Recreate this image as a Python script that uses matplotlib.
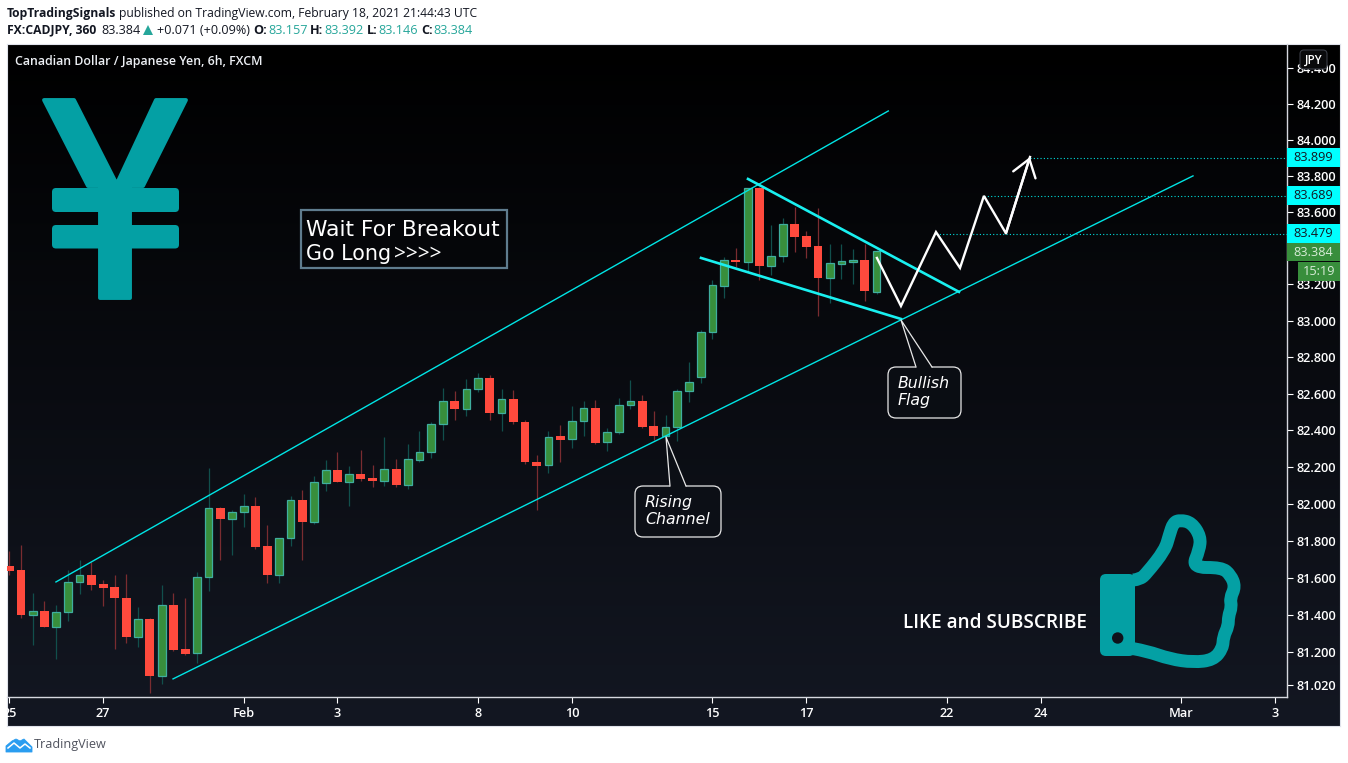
import numpy as np
import matplotlib
matplotlib.use('Agg')
import matplotlib.pyplot as plt
from matplotlib.patches import Polygon, FancyBboxPatch, Circle, Rectangle, PathPatch
from matplotlib.path import Path
from matplotlib.ticker import NullLocator

W, H = 1348, 763

# ── Data ──────────────────────────────────────────────────────────────────────
opens = [81.665, 81.644, 81.401, 81.419, 81.336, 81.414, 81.576, 81.614, 81.567, 81.549,
         81.491, 81.280, 81.376, 81.071, 81.452, 81.215, 81.193, 81.603, 81.977, 81.917,
         81.955, 81.988, 81.770, 81.613, 81.814, 82.023, 81.902, 82.115, 82.183, 82.121,
         82.161, 82.139, 82.126, 82.188, 82.104, 82.241, 82.281, 82.433, 82.559, 82.514,
         82.625, 82.685, 82.492, 82.570, 82.444, 82.227, 82.210, 82.368, 82.351, 82.450,
         82.521, 82.335, 82.390, 82.537, 82.559, 82.424, 82.371, 82.417, 82.614, 82.694,
         82.937, 83.193, 83.335, 83.323, 83.731, 83.299, 83.354, 83.532, 83.465, 83.410,
         83.237, 83.315, 83.326, 83.334, 83.157]
highs = [81.745, 81.777, 81.518, 81.476, 81.454, 81.644, 81.693, 81.684, 81.589, 81.616,
         81.622, 81.443, 81.381, 81.562, 81.518, 81.492, 81.633, 82.196, 81.982, 81.968,
         82.055, 82.039, 81.887, 81.814, 82.044, 82.077, 82.152, 82.239, 82.281, 82.205,
         82.293, 82.210, 82.362, 82.245, 82.326, 82.397, 82.444, 82.632, 82.614, 82.681,
         82.712, 82.703, 82.627, 82.619, 82.455, 82.267, 82.397, 82.430, 82.534, 82.559,
         82.565, 82.412, 82.578, 82.676, 82.594, 82.506, 82.483, 82.625, 82.773, 82.950,
         83.224, 83.350, 83.401, 83.731, 83.740, 83.528, 83.564, 83.626, 83.495, 83.621,
         83.423, 83.423, 83.396, 83.423, 83.392]
lows = [81.613, 81.385, 81.235, 81.336, 81.164, 81.368, 81.514, 81.536, 81.445, 81.218,
        81.246, 81.229, 80.981, 81.029, 81.207, 81.184, 81.142, 81.529, 81.697, 81.724,
        81.872, 81.757, 81.574, 81.569, 81.774, 81.693, 81.891, 82.068, 82.121, 81.991,
        82.126, 82.090, 82.099, 82.090, 82.083, 82.227, 82.247, 82.350, 82.454, 82.481,
        82.607, 82.457, 82.399, 82.432, 82.219, 81.964, 82.165, 82.230, 82.306, 82.371,
        82.328, 82.285, 82.379, 82.519, 82.415, 82.350, 82.348, 82.344, 82.557, 82.656,
        82.902, 83.127, 83.294, 83.270, 83.226, 83.253, 83.326, 83.381, 83.348, 83.028,
        83.100, 83.231, 83.204, 83.111, 83.146]
closes = [81.638, 81.401, 81.419, 81.336, 81.414, 81.576, 81.614, 81.563, 81.547, 81.489,
          81.278, 81.376, 81.071, 81.452, 81.213, 81.191, 81.603, 81.975, 81.920, 81.955,
          81.988, 81.768, 81.613, 81.814, 82.021, 81.904, 82.119, 82.183, 82.121, 82.161,
          82.137, 82.126, 82.188, 82.104, 82.243, 82.281, 82.433, 82.559, 82.514, 82.625,
          82.685, 82.492, 82.570, 82.443, 82.225, 82.208, 82.366, 82.350, 82.450, 82.521,
          82.333, 82.390, 82.537, 82.559, 82.421, 82.371, 82.417, 82.614, 82.663, 82.937,
          83.195, 83.334, 83.321, 83.731, 83.299, 83.356, 83.532, 83.463, 83.408, 83.237,
          83.317, 83.328, 83.334, 83.162, 83.384]

x_ticks = [0, 8, 20, 28, 40, 48, 60, 68, 80, 88, 100, 108]
x_labels = ['25', '27', 'Feb', '3', '8', '10', '15', '17', '22', '24', 'Mar', '3']
y_ticks = [81.02, 81.2, 81.4, 81.6, 81.8, 82.0, 82.2, 82.4, 82.6, 82.8, 83.0, 83.2,
           83.4, 83.6, 83.8, 84.0, 84.2, 84.4]
y_labels = ['81.020', '81.200', '81.400', '81.600', '81.800', '82.000', '82.200', '82.400', '82.600',
            '82.800', '83.000', '83.200', '', '83.600', '83.800', '84.000', '84.200', '84.400']

channel_up_x, channel_up_y = [3.98, 75.0], [81.577, 84.161]
channel_lo_x, channel_lo_y = [13.97, 101.0], [81.055, 83.800]
flag_up_x, flag_up_y = [63.03, 81.03], [83.783, 83.159]
flag_lo_x, flag_lo_y = [59.02, 76.08], [83.346, 83.010]
path_x = [74.03, 76.08, 79.07, 81.12, 83.16, 85.04, 87.09]
path_y = [83.346, 83.081, 83.489, 83.291, 83.689, 83.482, 83.905]
level_x = [79.07, 83.16, 87.09]
level_y = [83.479, 83.689, 83.899]
level_labels = ['83.479', '83.689', '83.899']

GREEN, GREEN_EDGE, GREEN_WICK = '#388e3c', '#3fae9f', '#114f4c'
RED, RED_WICK = '#ff4a3d', '#7a2c30'
CYAN, TEAL = '#00e5e5', '#04a0a4'
LINE_CYAN = '#19f0f0'

plt.rcParams['font.family'] = ['Open Sans', 'DejaVu Sans']

fig = plt.figure(figsize=(W / 100, H / 100), dpi=100, facecolor='white')


def px_axes(x0, y0, x1, y1, **kw):
    return fig.add_axes([x0 / W, 1 - y1 / H, (x1 - x0) / W, (y1 - y0) / H], **kw)


# ── Background gradient ───────────────────────────────────────────────────────
bg = px_axes(7, 44, 1340, 726)
grad = np.linspace(0, 1, 256)[:, None, None] * np.array([[[0x13, 0x17, 0x22]]]) / 255
bg.imshow(grad, aspect='auto', extent=[0, 1, 0, 1], zorder=0)
bg.set_xticks([]); bg.set_yticks([])
for s in bg.spines.values():
    s.set_color('#e0e3eb')
    s.set_linewidth(0.8)

# ── Price chart (log price scale) ─────────────────────────────────────────────
ax = px_axes(7, 44, 1287, 697)
ax.patch.set_alpha(0)
ax.set_yscale('log')
ax.set_xlim(-0.196, 109.02)
ax.set_ylim(80.958, 84.535)
ax.yaxis.tick_right()
ax.set_xticks(x_ticks)
ax.set_xticklabels(x_labels)
ax.set_yticks(y_ticks)
ax.set_yticklabels(y_labels)
ax.yaxis.set_minor_locator(NullLocator())
ax.tick_params(colors='white', length=4, width=0.8, labelsize=9.2, pad=3)
for lab in ax.get_xticklabels() + ax.get_yticklabels():
    lab.set_fontweight('semibold')
for s in ['top', 'left']:
    ax.spines[s].set_visible(False)
for s in ['right', 'bottom']:
    ax.spines[s].set_color('#d6d8df')
    ax.spines[s].set_linewidth(1.0)

idx = np.arange(len(opens))
o, h, l, c = map(np.array, (opens, highs, lows, closes))
up = c >= o
ax.vlines(idx[up], l[up], h[up], color=GREEN_WICK, lw=0.9, zorder=2)
ax.vlines(idx[~up], l[~up], h[~up], color=RED_WICK, lw=0.9, zorder=2)
ax.bar(idx[up], (c - o)[up], bottom=o[up], width=0.66, color=GREEN,
       edgecolor=GREEN_EDGE, linewidth=0.9, zorder=3)
ax.bar(idx[~up], (c - o)[~up], bottom=o[~up], width=0.76, color=RED, linewidth=0, zorder=3)

ax.plot(channel_up_x, channel_up_y, color=CYAN, lw=1.0, zorder=4)
ax.plot(channel_lo_x, channel_lo_y, color=CYAN, lw=1.0, zorder=4)
ax.plot(flag_up_x, flag_up_y, color=LINE_CYAN, lw=1.9, zorder=4)
ax.plot(flag_lo_x, flag_lo_y, color=LINE_CYAN, lw=1.9, zorder=4)
ax.hlines(level_y, level_x, 109.02, color='#00e0e0', lw=0.8, linestyles=(0, (1, 2)), zorder=4)
ax.plot(path_x, path_y, color='white', lw=1.7, zorder=5, solid_joinstyle='miter')
ax.annotate('', xy=(path_x[-1], path_y[-1]), xytext=(path_x[-2], path_y[-2]),
            arrowprops=dict(arrowstyle='->,head_length=0.6,head_width=0.42', color='white', lw=1.7,
                            mutation_scale=20, shrinkA=0, shrinkB=0), zorder=5)

# ── Overlay in pixel coordinates ──────────────────────────────────────────────
ov = fig.add_axes([0, 0, 1, 1])
ov.set_xlim(0, W); ov.set_ylim(H, 0)
ov.axis('off'); ov.patch.set_alpha(0)


def txt(x, y, s, **kw):
    kw.setdefault('va', 'center')
    kw.setdefault('ha', 'left')
    return ov.text(x, y, s, **kw)


# header
DARK = '#131722'
HT = '#26a69a'
txt(7, 13, 'TopTradingSignals', color=DARK, fontsize=8.7, fontweight='bold')
txt(119, 13, 'published on TradingView.com, February 18, 2021 21:44:43 UTC', color=DARK, fontsize=8.7)
txt(7, 30, 'FX:CADJPY, 360', color=DARK, fontsize=8.7, fontweight='bold')
txt(101, 30, '83.384', color=DARK, fontsize=9.1)
ov.add_patch(Polygon([(143, 35), (153, 35), (148, 25)], color=HT, lw=0))
txt(157, 30, '+0.071 (+0.09%)', color=DARK, fontsize=9.1)
for lx, name, vx, val in [(253, 'O:', 268, '83.157'), (310, 'H:', 324, '83.392'),
                          (367, 'L:', 378, '83.146'), (421, 'C:', 433, '83.384')]:
    txt(lx, 30, name, color=DARK, fontsize=9.1, fontweight='bold')
    txt(vx, 30, val, color=HT, fontsize=9.1)

txt(15, 61, 'Canadian Dollar / Japanese Yen, 6h, FXCM', color='#eceff4', fontsize=8.9, fontweight='semibold')

# price labels
for lab, y0 in zip(level_labels, [224, 186, 148]):
    ov.add_patch(Rectangle((1287, y0), 53, 19, color='#00ffff', lw=0, zorder=5))
    txt(1313.5, y0 + 9.5, lab, color='#131722', fontsize=9.2, ha='center', zorder=6)
ov.add_patch(Rectangle((1287, 243), 53, 18, color=GREEN, lw=0, zorder=5))
txt(1313.5, 252, '83.384', color='#d8ecd8', fontsize=9.2, ha='center', zorder=6)
ov.add_patch(Rectangle((1298, 262), 42, 19, color=GREEN, lw=0, zorder=5))
txt(1319, 271.5, '15:19', color='#d8ecd8', fontsize=9.2, ha='center', zorder=6)
ov.add_patch(FancyBboxPatch((1302, 52), 23, 15, boxstyle='round,pad=2,rounding_size=4',
                            fc='#0a0a0c', ec='#3a3d46', lw=0.8, zorder=5))
txt(1313.5, 60, 'JPY', color='white', fontsize=8.5, fontweight='semibold', ha='center', zorder=6)

# yen icon
ov.add_patch(Polygon([(44, 100), (74, 100), (116.7, 184), (156, 100), (186, 100), (143, 186), (130, 186),
                      (130, 298), (100, 298), (100, 186), (88, 186)],
                     fc=TEAL, ec=TEAL, lw=2.8, joinstyle='round', zorder=1))
for y0, y1 in [(188, 212), (225, 248.5)]:
    ov.add_patch(FancyBboxPatch((55, y0 + 3), 121, y1 - y0 - 6, boxstyle='round,pad=3,rounding_size=4',
                                fc=TEAL, ec='none', zorder=1))

# wait box
ov.add_patch(Rectangle((301, 210), 206, 58, fc='#050609', ec='#5f7c8e', lw=1.6, zorder=5))
txt(306, 230, 'Wait For Breakout', color='white', fontsize=15.7, family='DejaVu Sans', zorder=6)
txt(306, 254, 'Go Long', color='white', fontsize=14.9, family='DejaVu Sans', zorder=6)
txt(394, 254, '>>>>', color='white', fontsize=15, family='Open Sans', zorder=6)


def callout(x0, y0, x1, y1, tip, base, lines, fc):
    ov.add_patch(FancyBboxPatch((x0 + 8, y0 + 8), x1 - x0 - 16, y1 - y0 - 16,
                                boxstyle='round,pad=8,rounding_size=8', fc=fc, ec='#e8e8e8', lw=0.9, zorder=6))
    ov.add_patch(Polygon([(base[0], y0 + 1), tip, (base[1], y0 + 1)], fc=fc, ec='none', zorder=6))
    ov.plot([base[0], tip[0], base[1]], [y0, tip[1], y0], color='#e8e8e8', lw=0.9, zorder=7)
    for tx, ty, s in lines:
        txt(tx, ty, s, color='white', fontsize=11.3, family='DejaVu Sans', style='italic', zorder=8)


callout(635, 486, 721, 537, (666, 437), (670, 686),
        [(645, 503, 'Rising'), (645, 519, 'Channel')], '#0c0f16')
callout(888, 367, 961, 418, (901, 320), (916, 932),
        [(898, 384, 'Bullish'), (898, 401, 'Flag')], '#0a0d13')

# like and subscribe + thumb
txt(903, 623, 'LIKE and SUBSCRIBE', color='white', fontsize=13.7, fontweight='semibold')
ov.add_patch(FancyBboxPatch((1106, 580), 23, 70, boxstyle='round,pad=6,rounding_size=6',
                            fc=TEAL, ec='none', zorder=2))
ov.add_patch(Circle((1117.7, 638), 5.7, fc='#0f121a', ec='none', zorder=3))
thumb = np.array([(160, 240), (180, 238), (200, 220), (255, 150), (268, 105), (280, 68), (300, 60),
                  (335, 68), (362, 110), (358, 150), (336, 203), (425, 202), (452, 225), (466, 260),
                  (450, 295), (455, 320), (445, 350), (445, 378), (430, 410), (428, 445), (400, 480),
                  (340, 487), (270, 477), (200, 453), (160, 446)]) / 3 + [1080, 500]
verts = [thumb[0]]
codes = [Path.MOVETO]
for a, b in zip(thumb[1:-2], thumb[2:-1]):
    verts += [a, (a + b) / 2]
    codes += [Path.CURVE3, Path.CURVE3]
verts += [thumb[-2], thumb[-1]]
codes += [Path.CURVE3, Path.CURVE3]
ov.add_patch(PathPatch(Path(verts, codes), fc='none', ec=TEAL, lw=9.3, capstyle='butt', joinstyle='round', zorder=2))

# footer logo
logo = [(6, 752), (6, 746), (12, 741), (16, 739), (20, 741), (24, 739), (28, 743), (32, 747), (32, 752)]
ov.add_patch(Polygon(logo, fc='#2a9df0', ec='#2a9df0', lw=0.6, joinstyle='round'))
ov.plot([8, 14, 20, 25, 30], [748, 743, 748, 744, 748], color='white', lw=1.1)
txt(34, 744.5, 'TradingView', color='#50535e', fontsize=9.1)

fig.savefig('out.png', dpi=100)
